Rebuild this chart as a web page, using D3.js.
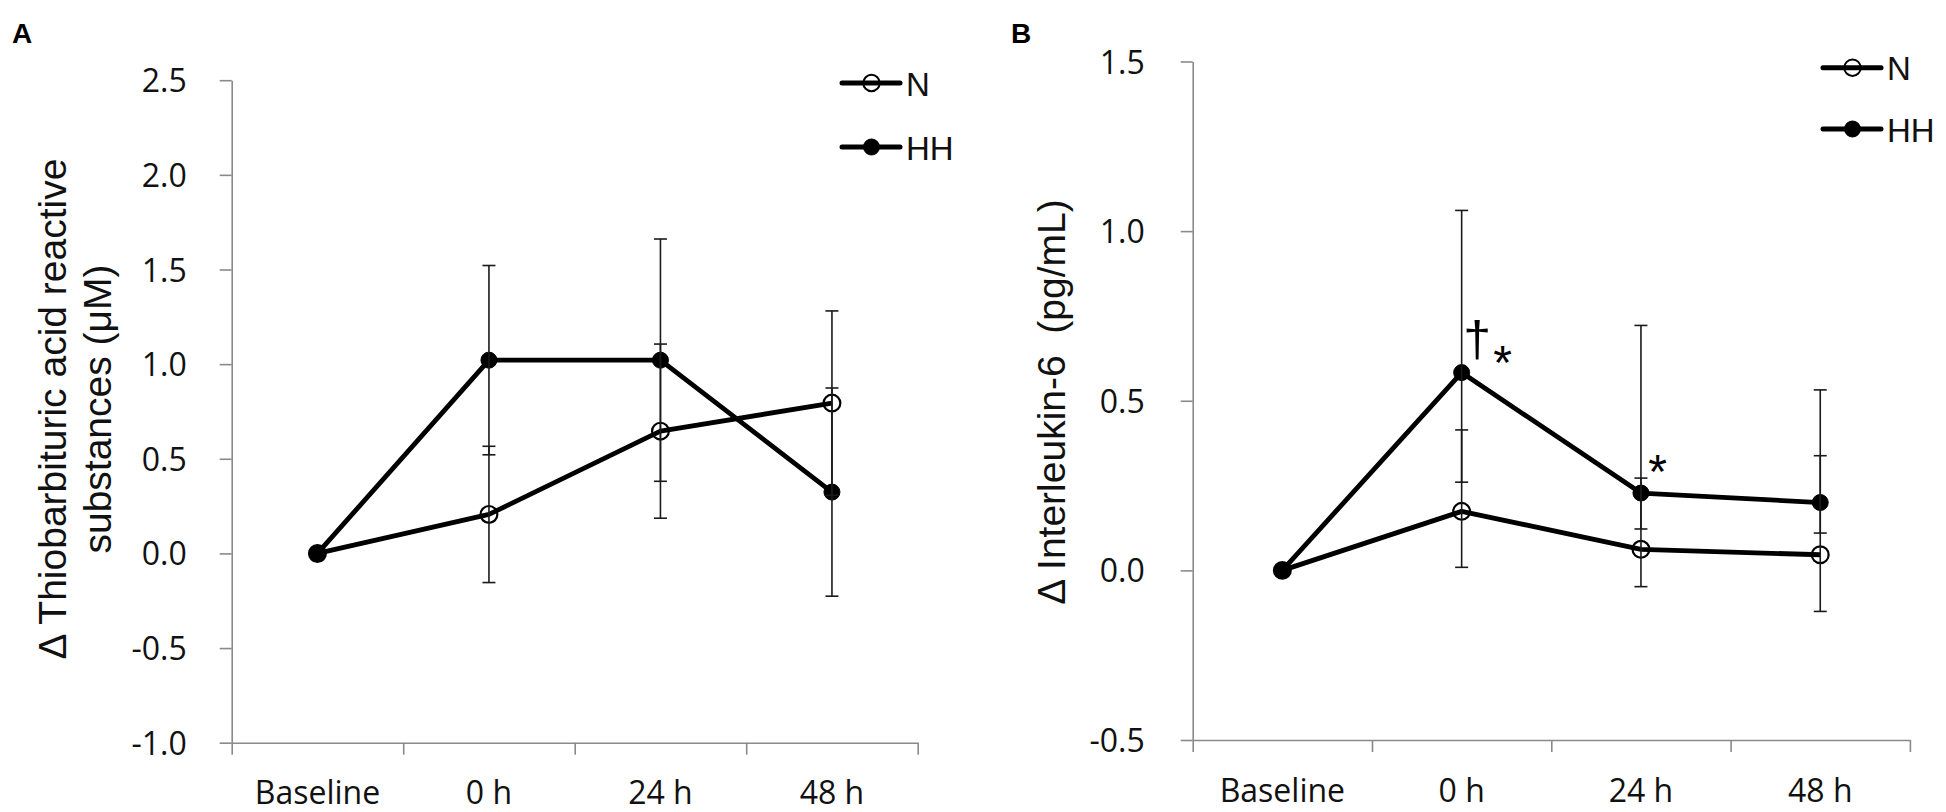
<!DOCTYPE html>
<html><head><meta charset="utf-8">
<script src="https://cdn.jsdelivr.net/npm/d3@7"></script>
<style>body{margin:0;background:#fff} svg{display:block}</style>
</head><body>
<svg id="chart" width="1946" height="812"></svg>
<script>
// ---------- data ----------
const categories = ["Baseline", "0 h", "24 h", "48 h"];
const seriesNames = ["N", "HH"];

// Panel A: Δ TBARS (µM), mean ± error
const tbarsTicks = [-1.0, -0.5, 0.0, 0.5, 1.0, 1.5, 2.0, 2.5];
const tbarsN = [0, 0.206, 0.646, 0.794];
const tbarsNErr = [0, 0.36, 0.46, 0.487];
const tbarsHH = [0, 1.021, 1.021, 0.324];
const tbarsHHErr = [0, 0.50, 0.64, 0.55];

// Panel B: Δ IL-6 (pg/mL), mean with upper / lower error bounds
const il6Ticks = [-0.5, 0.0, 0.5, 1.0, 1.5];
const il6N = [0, 0.174, 0.062, 0.046];
const il6NUpper = [0, 0.414, 0.272, 0.338];
const il6NLower = [0, 0.009, -0.048, -0.121];
const il6HH = [0, 0.583, 0.228, 0.200];
const il6HHUpper = [0, 1.061, 0.722, 0.532];
const il6HHLower = [0, 0.260, 0.122, 0.110];

// Significance marks on panel B (attached to the HH point of a category)
const il6MarkCats = ["0 h", "0 h", "24 h"];
const il6MarkText = ["†", "*", "*"];

// ---------- drawing ----------
const svg = d3.select("#chart");
const AXIS = "#8a8a8a";
const TICKFONT = "'Open Sans', 'Noto Sans', sans-serif";
const ARIAL = "'Liberation Sans', Arial, sans-serif";

function buildSeries(names, means, lows, highs) {
  return names.map((n, k) => ({
    name: n,
    points: categories.map((c, i) => ({ cat: c, v: means[k][i], lo: lows[k][i], hi: highs[k][i] }))
  }));
}

const panels = [
  {
    letter: "A", letterX: 12, letterY: 43,
    x0: 231.7, x1: 917.7, yTop: 80.2, yBot: 742.7,
    domain: [-1.0, 2.5], ticks: tbarsTicks, tickPad: 33,
    series: buildSeries(seriesNames, [tbarsN, tbarsHH],
      [tbarsN.map((v, i) => v - tbarsNErr[i]), tbarsHH.map((v, i) => v - tbarsHHErr[i])],
      [tbarsN.map((v, i) => v + tbarsNErr[i]), tbarsHH.map((v, i) => v + tbarsHHErr[i])]),
    title: ["Δ Thiobarbituric acid reactive", "substances (μM)"],
    titleX: [66, 111], titleY: 409,
    legX: 842, legY: [83, 147],
    marks: []
  },
  {
    letter: "B", letterX: 1011, letterY: 43,
    x0: 1192.7, x1: 1909.9, yTop: 61.5, yBot: 740,
    domain: [-0.5, 1.5], ticks: il6Ticks, tickPad: 36,
    series: buildSeries(seriesNames, [il6N, il6HH], [il6NLower, il6HHLower], [il6NUpper, il6HHUpper]),
    title: ["Δ Interleukin-6\u00a0 (pg/mL)"],
    titleX: [1065], titleY: 402,
    legX: 1823, legY: [67.7, 129],
    marks: il6MarkCats.map((c, i) => ({ cat: c, text: il6MarkText[i], v: il6HH[categories.indexOf(c)] }))
  }
];

panels.forEach(p => {
  const g = svg.append("g");
  const y = d3.scaleLinear().domain(p.domain).range([p.yBot, p.yTop]);
  const xb = d3.scaleBand().domain(categories).range([p.x0, p.x1]).paddingInner(0).paddingOuter(0);
  const xc = c => xb(c) + xb.bandwidth() / 2;
  const xTicks = d3.scaleLinear().domain([0, categories.length]).range([p.x0, p.x1]);

  // y axis
  const ya = g.append("g").attr("transform", `translate(${p.x0},0)`)
    .call(d3.axisLeft(y).tickValues(p.ticks).tickFormat(d => d.toFixed(1))
      .tickSize(12).tickSizeOuter(0).tickPadding(p.tickPad));
  ya.select(".domain").attr("stroke", AXIS).attr("stroke-width", 1.6);
  ya.selectAll(".tick line").attr("stroke", AXIS).attr("stroke-width", 1.6);
  ya.selectAll(".tick text").attr("font-family", TICKFONT).attr("font-size", 32)
    .attr("fill", "#111").attr("dy", "0.36em");

  // x axis (boundary ticks)
  const xa = g.append("g").attr("transform", `translate(0,${p.yBot})`)
    .call(d3.axisBottom(xTicks).tickValues(d3.range(categories.length + 1))
      .tickFormat("").tickSize(12).tickSizeOuter(0));
  xa.select(".domain").attr("stroke", AXIS).attr("stroke-width", 1.6);
  xa.selectAll(".tick line").attr("stroke", AXIS).attr("stroke-width", 1.6);

  // x labels
  const xl = g.append("g").attr("transform", `translate(0,${p.yBot})`)
    .call(d3.axisBottom(xb).tickSize(0).tickPadding(39));
  xl.select(".domain").remove();
  xl.selectAll(".tick text").attr("font-family", TICKFONT).attr("font-size", 32).attr("fill", "#111");

  // y title
  p.title.forEach((t, i) => {
    g.append("text")
      .attr("transform", `translate(${p.titleX[i]},${p.titleY}) rotate(-90)`)
      .attr("text-anchor", "middle")
      .attr("font-family", ARIAL).attr("font-size", 39).attr("fill", "#111")
      .text(t);
  });

  // panel letter
  g.append("text").attr("x", p.letterX).attr("y", p.letterY)
    .attr("font-family", ARIAL).attr("font-weight", "bold").attr("font-size", 28)
    .attr("fill", "#000").text(p.letter);

  // lines
  const line = d3.line().x(d => xc(d.cat)).y(d => y(d.v));
  p.series.forEach(s => {
    g.append("path").datum(s.points).attr("d", line)
      .attr("fill", "none").attr("stroke", "#000").attr("stroke-width", 4.8)
      .attr("stroke-linejoin", "round");
  });

  // markers
  p.series.forEach(s => {
    g.selectAll(null).data(s.points).enter().append("circle")
      .attr("cx", d => xc(d.cat)).attr("cy", d => y(d.v))
      .attr("r", s.name === "N" ? 8.4 : 8)
      .attr("fill", s.name === "N" ? "none" : "#000")
      .attr("stroke", "#000").attr("stroke-width", s.name === "N" ? 2.2 : 1);
  });

  // error bars
  p.series.forEach(s => {
    const eb = g.selectAll(null).data(s.points.filter(d => d.hi !== d.lo)).enter().append("g");
    eb.append("line").attr("x1", d => xc(d.cat)).attr("x2", d => xc(d.cat))
      .attr("y1", d => y(d.lo)).attr("y2", d => y(d.hi));
    eb.append("line").attr("x1", d => xc(d.cat) - 6.5).attr("x2", d => xc(d.cat) + 6.5)
      .attr("y1", d => y(d.hi)).attr("y2", d => y(d.hi));
    eb.append("line").attr("x1", d => xc(d.cat) - 6.5).attr("x2", d => xc(d.cat) + 6.5)
      .attr("y1", d => y(d.lo)).attr("y2", d => y(d.lo));
    eb.selectAll("line").attr("stroke", "#1a1a1a").attr("stroke-width", 1.6);
  });

  // significance marks
  p.marks.forEach(m => {
    const px = xc(m.cat), py = y(m.v);
    if (m.text === "†") {
      g.append("text").attr("x", px + 15.5).attr("y", py - 17)
        .attr("text-anchor", "middle").attr("font-family", ARIAL).attr("font-size", 50)
        .attr("fill", "#000").text(m.text);
    } else {
      const dx = m.cat === "0 h" ? 41 : 16.7;
      const dy = m.cat === "0 h" ? -20.7 : -31.6;
      g.append("text").attr("x", px + dx).attr("y", py + dy + 27)
        .attr("text-anchor", "middle").attr("font-family", ARIAL).attr("font-size", 48)
        .attr("fill", "#000").text(m.text);
    }
  });

  // legend
  p.series.forEach((s, i) => {
    const ly = p.legY[i];
    g.append("line").attr("x1", p.legX).attr("x2", p.legX + 58)
      .attr("y1", ly).attr("y2", ly).attr("stroke", "#000").attr("stroke-width", 5)
      .attr("stroke-linecap", "round");
    g.append("circle").attr("cx", p.legX + 29.5).attr("cy", ly).attr("r", s.name === "N" ? 8.2 : 8)
      .attr("fill", s.name === "N" ? "none" : "#000").attr("stroke", "#000")
      .attr("stroke-width", s.name === "N" ? 2 : 1);
    g.append("text").attr("x", p.legX + 64).attr("y", ly + 12.5)
      .attr("font-family", ARIAL).attr("font-size", 33).attr("fill", "#111").text(s.name);
  });
});
</script>
</body></html>
